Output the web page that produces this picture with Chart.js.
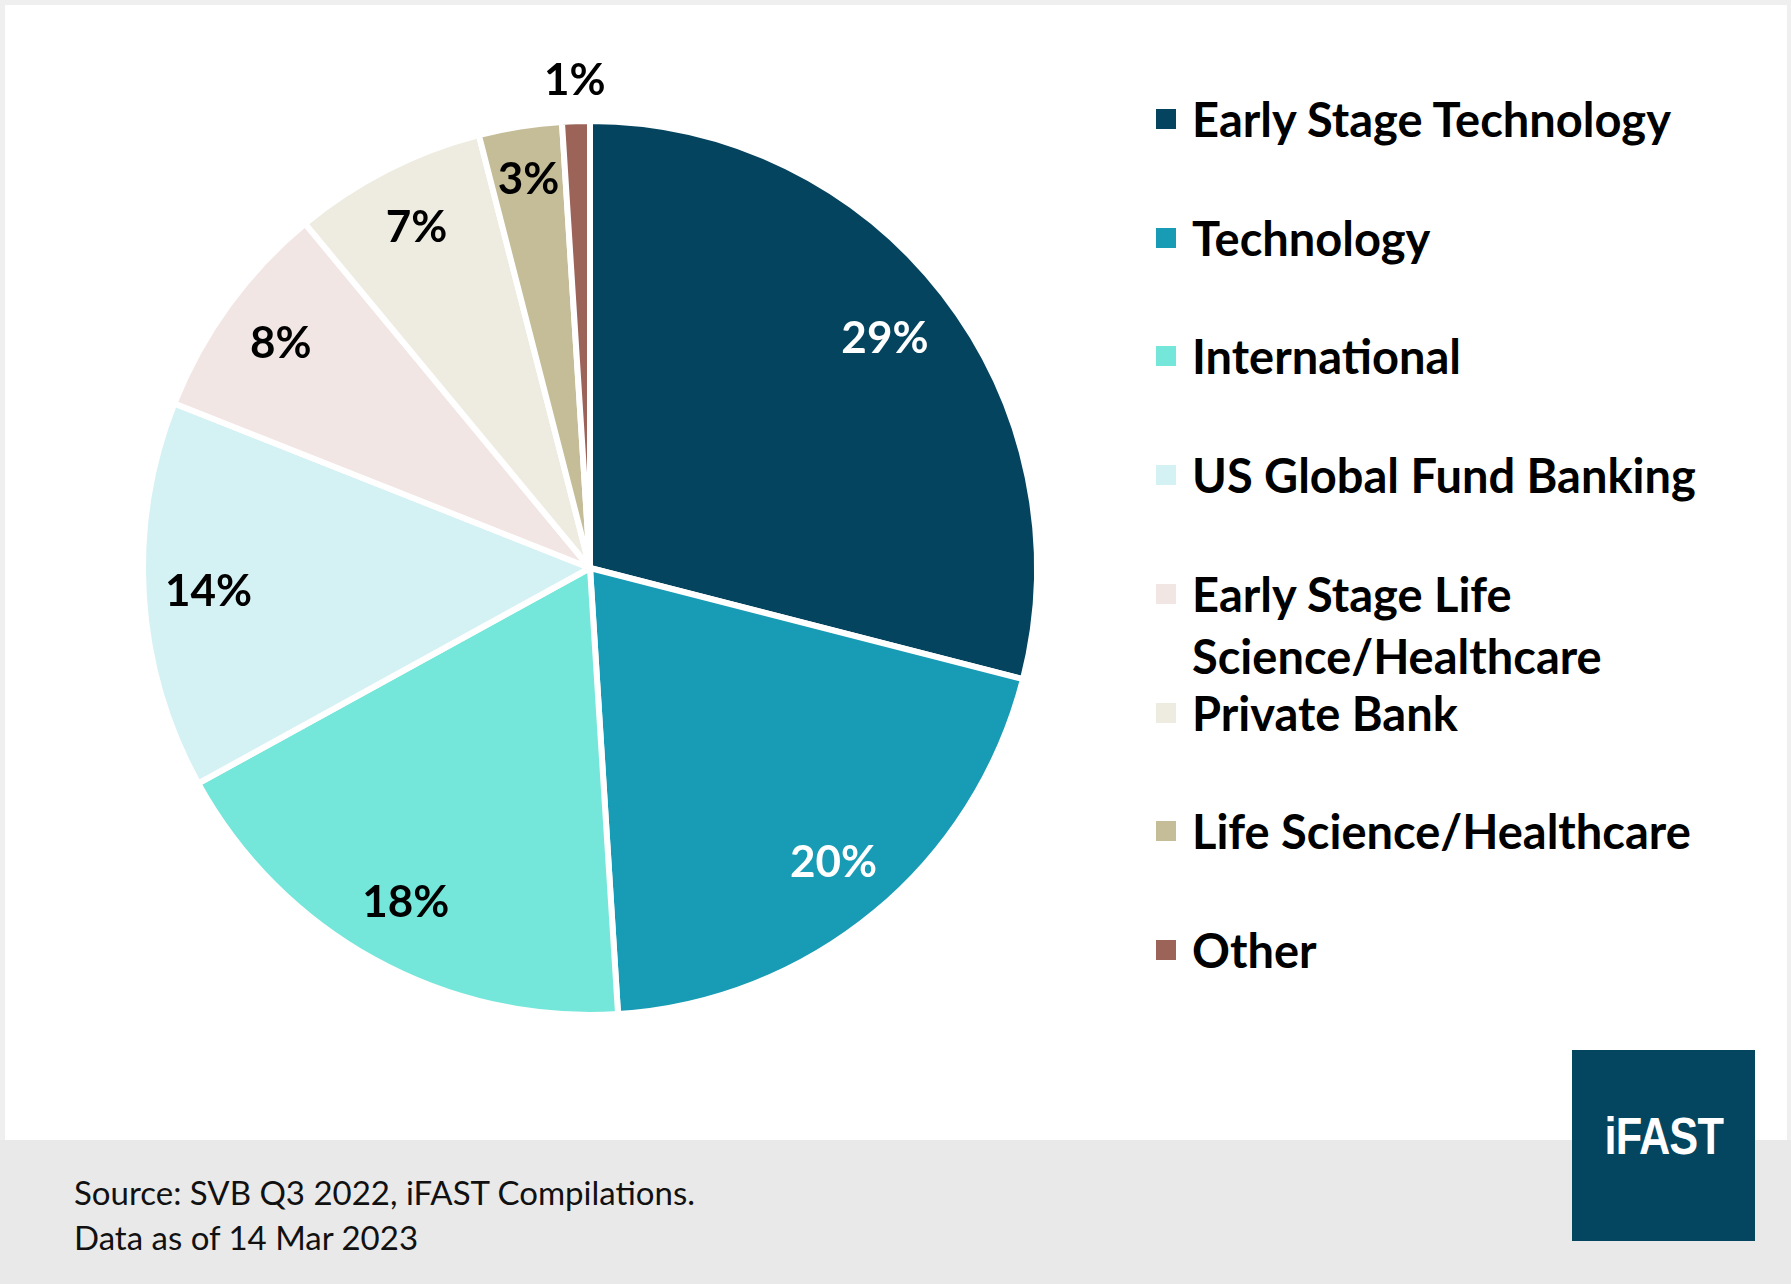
<!DOCTYPE html>
<html>
<head>
<meta charset="utf-8">
<script src="https://cdn.jsdelivr.net/npm/chart.js@4.4.1/dist/chart.umd.min.js"></script>
<style>
  html, body { margin: 0; padding: 0; }
  body {
    width: 1791px; height: 1284px; position: relative; overflow: hidden;
    background: #ffffff; font-family: Lato, "Noto Sans", sans-serif;
  }
  #frame {
    position: absolute; left: 0; top: 0; width: 1791px; height: 1284px;
    box-sizing: border-box; border: 5px solid #efefef; border-right-width: 4px;
  }
  #chartBox { position: absolute; left: 40px; top: 18px; width: 1100px; height: 1100px; }
  #legend { position: absolute; left: 1156px; top: 0; width: 620px; }
  .item { position: absolute; left: 0; display: flex; align-items: flex-start; }
  .swatch { width: 20px; height: 20px; margin-top: 21px; margin-right: 16px; flex: none; }
  .text { font-weight: 700; font-size: 47px; line-height: 62px; color: #000; width: 560px; }
  #footer {
    position: absolute; left: 0; top: 1140px; width: 1791px; height: 144px; background: #e9e9e9;
  }
  #source {
    position: absolute; left: 74px; top: 1170px; font-size: 33px; line-height: 45px; color: #111;
  }
  #logo {
    position: absolute; left: 1572px; top: 1050px; width: 183px; height: 191px; background: #04455f;
    color: #fff; display: flex; align-items: center; justify-content: center;
  }
  #logo span {
    font-family: "Liberation Sans", Arial, sans-serif; font-weight: 700; font-size: 51px;
    transform: scaleX(0.85); margin-top: -18px; letter-spacing: -1px;
  }
</style>
</head>
<body>
<div id="frame"></div>
<div id="footer"></div>
<div id="chartBox"><canvas id="pie"></canvas></div>
<div id="legend"></div>
<div id="source">Source: SVB Q3 2022, iFAST Compilations.<br>Data as of 14 Mar 2023</div>
<div id="logo"><span>iFAST</span></div>
<script>
const categories = [
  'Early Stage Technology',
  'Technology',
  'International',
  'US Global Fund Banking',
  'Early Stage Life Science/Healthcare',
  'Private Bank',
  'Life Science/Healthcare',
  'Other'
];
const shares = [29, 20, 18, 14, 8, 7, 3, 1];
const sliceColors = ['#05445e', '#189bb5', '#75e6da', '#d4f1f4', '#f1e6e4', '#eeece1', '#c4bd97', '#9c6358'];
const labelColors = ['#ffffff', '#ffffff', '#000000', '#000000', '#000000', '#000000', '#000000', '#000000'];

// percentages drawn on the slices (the tiny one goes outside)
const sliceLabels = {
  id: 'sliceLabels',
  afterDatasetsDraw(chart) {
    const ctx = chart.ctx;
    const arcs = chart.getDatasetMeta(0).data;
    ctx.save();
    ctx.font = 'bold 44px Lato, "Noto Sans", sans-serif';
    ctx.textAlign = 'center';
    ctx.textBaseline = 'middle';
    arcs.forEach((arc, i) => {
      const p = arc.getProps(['x', 'y', 'startAngle', 'endAngle', 'outerRadius'], true);
      const mid = (p.startAngle + p.endAngle) / 2;
      let f = 0.855;
      if (shares[i] < 2) f = 1.09;
      else if (shares[i] < 5) f = 0.88;
      else if (shares[i] > 25) f = 0.835;
      ctx.fillStyle = labelColors[i];
      ctx.fillText(shares[i] + '%', p.x + Math.cos(mid) * p.outerRadius * f, p.y + Math.sin(mid) * p.outerRadius * f);
    });
    ctx.restore();
  }
};

new Chart(document.querySelector('#pie'), {
  type: 'pie',
  data: {
    labels: categories,
    datasets: [{
      data: shares,
      backgroundColor: sliceColors,
      borderColor: '#ffffff',
      borderWidth: 6,
      hoverOffset: 0
    }]
  },
  options: {
    responsive: true,
    maintainAspectRatio: false,
    animation: false,
    events: [],
    radius: 447,
    layout: { padding: 0 },
    plugins: {
      legend: { display: false },
      tooltip: { enabled: false }
    }
  },
  plugins: [sliceLabels]
});

// legend on the right, one slot per category
const $legend = document.querySelector('#legend');
categories.forEach((name, i) => {
  const item = document.createElement('div');
  item.className = 'item';
  item.style.top = (119 + i * 118.7 - 31) + 'px';
  item.innerHTML = '<div class="swatch" style="background:' + sliceColors[i] + '"></div><div class="text">' + name + '</div>';
  $legend.appendChild(item);
});
</script>
</body>
</html>
